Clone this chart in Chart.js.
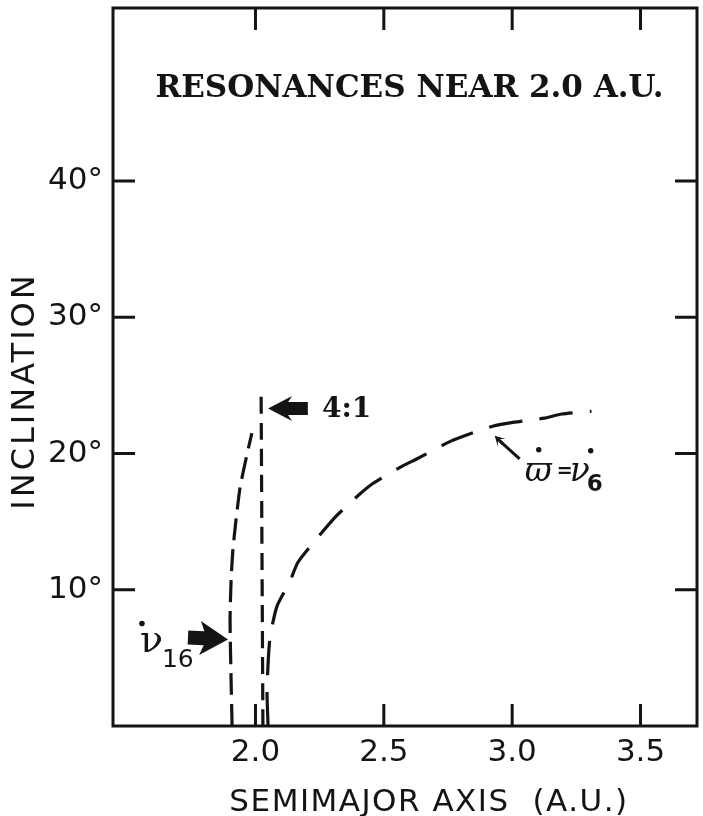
<!DOCTYPE html>
<html>
<head>
<meta charset="utf-8">
<script src="https://cdn.jsdelivr.net/npm/chart.js@4.4.1/dist/chart.umd.min.js"></script>
<style>
  html, body { margin: 0; padding: 0; background: #fff; }
</style>
</head>
<body>
<canvas id="chart" width="703" height="816"></canvas>
<script>
/* ── Data ─────────────────────────────── */
const xTicks = [2.0, 2.5, 3.0, 3.5];
const yTicks = [10, 20, 30, 40];

// nu16 secular resonance (left curve)
const nu16A = [1.909, 1.905, 1.901, 1.905, 1.912, 1.924, 1.940, 1.963, 1.986];
const nu16I = [0, 3.4, 7.8, 10.7, 12.9, 15.1, 17.5, 19.6, 21.5];

// 4:1 mean motion resonance
const res41A = [2.029, 2.022];
const res41I = [0, 24.4];

// varpi-dot = nu6 secular resonance
const nu6A = [2.049, 2.045, 2.056, 2.084, 2.134, 2.165, 2.232, 2.309, 2.399, 2.457, 2.574, 2.628, 2.749, 2.815, 2.924, 3.009, 3.126, 3.193, 3.309];
const nu6I = [0, 2.7, 6.4, 8.8, 10.6, 12.0, 13.6, 15.3, 16.9, 17.8, 19.1, 19.6, 20.8, 21.3, 22.0, 22.3, 22.6, 22.9, 23.1];

const INK = '#141414';
const pts = (xs, ys) => xs.map((x, k) => ({ x, y: ys[k] }));

/* ── Frame with inward ticks ──────────── */
const framePlugin = {
  id: 'frame',
  afterDraw(chart) {
    const { ctx, chartArea: a, scales: { x, y } } = chart;
    ctx.save();
    ctx.strokeStyle = INK;
    ctx.lineWidth = 3;
    ctx.strokeRect(a.left, a.top, a.right - a.left, a.bottom - a.top);
    const len = 22;
    ctx.beginPath();
    xTicks.forEach(v => {
      const px = x.getPixelForValue(v);
      ctx.moveTo(px, a.bottom); ctx.lineTo(px, a.bottom - len);
      ctx.moveTo(px, a.top);    ctx.lineTo(px, a.top + len);
    });
    yTicks.forEach(v => {
      const py = y.getPixelForValue(v);
      ctx.moveTo(a.left, py);  ctx.lineTo(a.left + len, py);
      ctx.moveTo(a.right, py); ctx.lineTo(a.right - len, py);
    });
    ctx.stroke();

    // axis titles, spaced out like the original lettering
    ctx.fillStyle = INK;
    ctx.textAlign = 'center';
    ctx.textBaseline = 'alphabetic';
    ctx.font = '31px "DejaVu Sans"';
    ctx.letterSpacing = '1.5px';
    ctx.fillText('SEMIMAJOR AXIS  (A.U.)', (a.left + a.right) / 2 + 24, 811);
    ctx.save();
    ctx.translate(34, (a.top + a.bottom) / 2 + 24);
    ctx.rotate(-Math.PI / 2);
    ctx.font = '32px "DejaVu Sans"';
    ctx.letterSpacing = '3px';
    ctx.fillText('INCLINATION', 0, 0);
    ctx.restore();
    ctx.restore();
  }
};

/* ── Labels and arrows ────────────────── */
function blockArrow(ctx, x0, y0, x1, y1, shaft, headLen, headW) {
  const ang = Math.atan2(y1 - y0, x1 - x0);
  const L = Math.hypot(x1 - x0, y1 - y0);
  ctx.save();
  ctx.translate(x1, y1);
  ctx.rotate(ang);
  ctx.beginPath();
  ctx.moveTo(0, 0);
  ctx.lineTo(-headLen, -headW / 2);
  ctx.lineTo(-headLen + 4, -shaft / 2);
  ctx.lineTo(-L, -shaft / 2);
  ctx.lineTo(-L, shaft / 2);
  ctx.lineTo(-headLen + 4, shaft / 2);
  ctx.lineTo(-headLen, headW / 2);
  ctx.closePath();
  ctx.fill();
  ctx.restore();
}

function dot(ctx, x, y, r) {
  ctx.beginPath();
  ctx.arc(x, y, r, 0, Math.PI * 2);
  ctx.fill();
}

const notesPlugin = {
  id: 'notes',
  afterDraw(chart) {
    const { ctx, scales: { x, y } } = chart;
    const X = v => x.getPixelForValue(v);
    const Y = v => y.getPixelForValue(v);
    ctx.save();
    ctx.fillStyle = INK;
    ctx.strokeStyle = INK;
    ctx.textBaseline = 'alphabetic';

    // title
    ctx.font = 'bold 31px "DejaVu Serif"';
    ctx.textAlign = 'center';
    ctx.fillText('RESONANCES NEAR 2.0 A.U.', X(2.6), Y(46.2));

    // 4:1
    blockArrow(ctx, X(2.204), Y(23.3), X(2.049), Y(23.3), 13, 24, 25);
    ctx.font = 'bold 28px "DejaVu Serif"';
    ctx.textAlign = 'left';
    ctx.fillText('4:1', X(2.259), Y(22.7));

    // nu16
    blockArrow(ctx, X(1.737), Y(6.5), X(1.893), Y(6.35), 14, 28, 34);
    ctx.font = '38px "DejaVu Serif"';
    const nx = X(1.55), ny = Y(5.4);
    ctx.fillText('ν', nx, ny);
    dot(ctx, nx + 2, ny - 29, 2.8);
    ctx.font = '25px "DejaVu Sans"';
    ctx.fillText('16', nx + 22, ny + 15);

    // varpi-dot = nu6
    ctx.lineWidth = 3;
    const tx = X(2.932), ty = Y(21.3), sx = X(3.029), sy = Y(19.6);
    ctx.beginPath();
    ctx.moveTo(sx, sy); ctx.lineTo(tx + 5, ty + 5);
    ctx.stroke();
    blockArrow(ctx, tx + 8, ty + 8, tx, ty, 3, 10, 11);

    const wx = X(3.049), wy = Y(18.0);
    ctx.font = 'italic 33px "DejaVu Serif"';
    ctx.fillText('ϖ', wx, wy);
    dot(ctx, wx + 14, wy - 31, 2.7);
    ctx.font = 'bold 19px "DejaVu Sans"';
    ctx.fillText('=', wx + 32, wy - 4);
    ctx.font = 'italic 33px "DejaVu Serif"';
    ctx.fillText('ν', wx + 45, wy);
    dot(ctx, wx + 66, wy - 30, 2.7);
    ctx.font = 'bold 23px "DejaVu Sans"';
    ctx.fillText('6', wx + 62, wy + 10);

    ctx.restore();
  }
};

/* ── Chart ────────────────────────────── */
const lineDs = (data, dash) => ({
  data,
  showLine: true,
  borderColor: INK,
  borderWidth: 3.2,
  borderDash: dash,
  pointRadius: 0,
  tension: 0.2,
  fill: false,
});

const tickFont = { family: '"DejaVu Sans"', size: 31 };

new Chart(document.getElementById('chart'), {
  type: 'scatter',
  data: {
    datasets: [
      lineDs(pts(nu16A, nu16I), [22, 9]),
      lineDs(pts(res41A, res41I), [17, 9]),
      lineDs(pts(nu6A, nu6I), [34, 17]),
    ],
  },
  options: {
    responsive: false,
    animation: false,
    devicePixelRatio: 1,
    layout: { padding: { top: 8, right: 6, left: 0, bottom: 0 } },
    plugins: { legend: { display: false }, tooltip: { enabled: false } },
    scales: {
      x: {
        type: 'linear',
        min: 1.445,
        max: 3.72,
        grid: { display: false },
        border: { display: false },
        afterBuildTicks: s => { s.ticks = xTicks.map(v => ({ value: v })); },
        afterFit: s => { s.height = 90; s.paddingLeft = 0; s.paddingRight = 0; },
        ticks: {
          font: tickFont,
          color: INK,
          padding: 0,
          maxRotation: 0,
          autoSkip: false,
          callback: v => v.toFixed(1),
        },
      },
      y: {
        type: 'linear',
        min: 0,
        max: 52.7,
        grid: { display: false },
        border: { display: false },
        afterBuildTicks: s => { s.ticks = yTicks.map(v => ({ value: v })); },
        afterFit: s => { s.width = 113; s.paddingTop = 0; s.paddingBottom = 0; },
        ticks: {
          font: tickFont,
          color: INK,
          padding: 2,
          callback: v => v + '°',
        },
      },
    },
  },
  plugins: [framePlugin, notesPlugin],
});
</script>
</body>
</html>
